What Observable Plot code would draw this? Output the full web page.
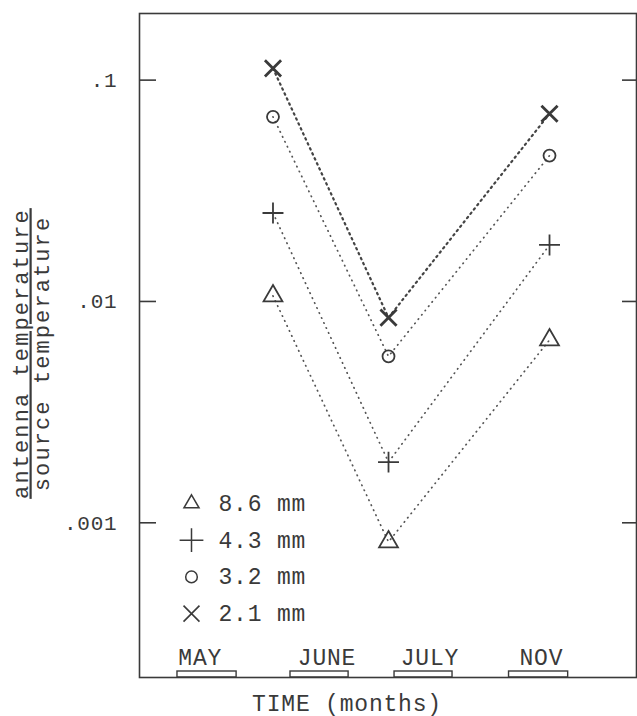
<!DOCTYPE html>
<html>
<head>
<meta charset="utf-8">
<script src="https://cdn.jsdelivr.net/npm/d3@7"></script>
<script src="https://cdn.jsdelivr.net/npm/@observablehq/plot@0.6"></script>
<style>
  html, body { margin: 0; padding: 0; background: #fff; }
  #chart svg { display: block; }
</style>
</head>
<body>
<div id="chart"></div>
<script>
// ---- data ----
const months = ["MAY", "JUNE", "JULY", "NOV"];
const monthLabelX = [-0.06, 1.055, 1.96, 2.94];
const monthBarStart = [-0.26, 0.734, 1.649, 2.656];
const monthBarEnd = [0.26, 1.245, 2.159, 3.176];
const obsX = [0.58, 1.596, 3.012];            // observation positions (June, July, Nov)
const series = ["8.6 mm", "4.3 mm", "3.2 mm", "2.1 mm"];
const seriesSymbols = ["triangle2", "plus", "circle", "times"];
const v86 = [0.0106, 0.00082, 0.0067];
const v43 = [0.0251, 0.00188, 0.018];
const v32 = [0.0683, 0.00565, 0.0456];
const v21 = [0.113, 0.00845, 0.0705];
const yTicks = [0.001, 0.01, 0.1];
const yTickLabels = [".001", ".01", ".1"];
const yLabelTop = "antenna temperature";
const yLabelBottom = "source temperature";
const xLabel = "TIME (months)";

// ---- build table ----
const values = [v86, v43, v32, v21];
const rows = series.flatMap((s, i) => values[i].map((v, j) => ({series: s, x: obsX[j], value: v})));
const legendRows = series.map((s, i) => ({series: s, i}));

const FONT = "Liberation Mono, DejaVu Sans Mono, monospace";
const INK = "#3a3a3a";
const dataR = {"8.6 mm": 9, "4.3 mm": 6.8, "3.2 mm": 6, "2.1 mm": 7.4};
const legendR = {"8.6 mm": 7.2, "4.3 mm": 7.7, "3.2 mm": 5.8, "2.1 mm": 7.3};
const frameH = 716 - 13 - 39;

const legendMarks = legendRows.flatMap(({series: s, i}) => [
  Plot.dot([s], {
    frameAnchor: "bottom-left", dx: 52, dy: -174 + i * 36.7,
    symbol: d => d, r: legendR[s], stroke: INK, strokeWidth: s === "2.1 mm" ? 1.6 : 1.5, fill: "none"
  }),
  Plot.text([s], {
    frameAnchor: "bottom-left", dx: 79, dy: -174 + i * 36.7,
    text: d => d, textAnchor: "start", lineAnchor: "middle",
    fontSize: 23, fontFamily: FONT, fill: INK
  })
]);

const chart = Plot.plot({
  width: 637,
  height: 716,
  marginLeft: 139,
  marginRight: 1,
  marginTop: 13,
  marginBottom: 39,
  style: {background: "#fff", color: INK},
  x: {domain: [-0.594, 3.777], axis: null},
  y: {type: "log", domain: [0.0002, 0.2], axis: null},
  symbol: {domain: series, range: seriesSymbols},
  marks: [
    Plot.frame({stroke: INK, strokeWidth: 1.6}),
    // y tick labels
    Plot.axisY(yTicks, {
      anchor: "left", tickSize: 0, tickPadding: 22, label: null,
      tickFormat: d => yTickLabels[yTicks.indexOf(d)],
      fontSize: 21, fontFamily: FONT, fill: INK
    }),
    // inward ticks left and right
    Plot.axisY(yTicks, {anchor: "left", tickSize: -17, tickFormat: () => "", label: null, stroke: INK, strokeWidth: 1.6}),
    Plot.axisY(yTicks, {anchor: "right", tickSize: -15, tickFormat: () => "", label: null, stroke: INK, strokeWidth: 1.6}),
    // month bars on baseline
    Plot.rect(months, {x1: monthBarStart, x2: monthBarEnd, insetTop: frameH - 6, stroke: INK, strokeWidth: 1.4, fill: "none"}),
    Plot.text(months, {
      x: monthLabelX, text: d => d, frameAnchor: "bottom", dy: -13, lineAnchor: "bottom",
      fontSize: 23, fontFamily: FONT, fill: INK
    }),
    // dotted lines
    Plot.line(rows.filter(d => d.series !== "2.1 mm"), {
      x: "x", y: "value", z: "series", stroke: "#555", strokeWidth: 1.7,
      strokeDasharray: "0.5,5", strokeLinecap: "round"
    }),
    Plot.line(rows.filter(d => d.series === "2.1 mm"), {
      x: "x", y: "value", z: "series", stroke: "#444", strokeWidth: 2.2,
      strokeDasharray: "1.5,4", strokeLinecap: "round"
    }),
    // points
    Plot.dot(rows, {
      x: "x", y: "value", symbol: "series",
      r: d => dataR[d.series], fill: "none", stroke: INK,
      strokeWidth: d => d.series === "2.1 mm" ? 2.8 : 1.8
    }),
    ...legendMarks,
    // y label (fraction)
    Plot.text([yLabelTop], {
      frameAnchor: "left", dx: -112, dy: 8, rotate: -90, text: d => d,
      textAnchor: "middle", lineAnchor: "bottom", fontSize: 22, fontFamily: FONT, fill: INK
    }),
    Plot.text([yLabelBottom], {
      frameAnchor: "left", dx: -91, dy: 8, rotate: -90, text: d => d,
      textAnchor: "middle", lineAnchor: "bottom", fontSize: 22, fontFamily: FONT, fill: INK
    }),
    // x label
    Plot.text([xLabel], {
      frameAnchor: "bottom", dx: -41, dy: 33, text: d => d,
      lineAnchor: "bottom", fontSize: 23, fontFamily: FONT, fill: INK
    })
  ],
  r: {type: "identity"}
});

// typewriter-like spacing and the fraction bar under the numerator
d3.select(chart).selectAll("text").style("letter-spacing", "0.8px");
d3.select(chart).selectAll("text").filter(function() { return this.textContent === yLabelTop || this.textContent === yLabelBottom; })
  .style("letter-spacing", "2.1px");
d3.select(chart).selectAll("text").filter(function() { return this.textContent === yLabelTop; })
  .style("text-decoration", "underline");

document.getElementById("chart").appendChild(chart);
</script>
</body>
</html>
